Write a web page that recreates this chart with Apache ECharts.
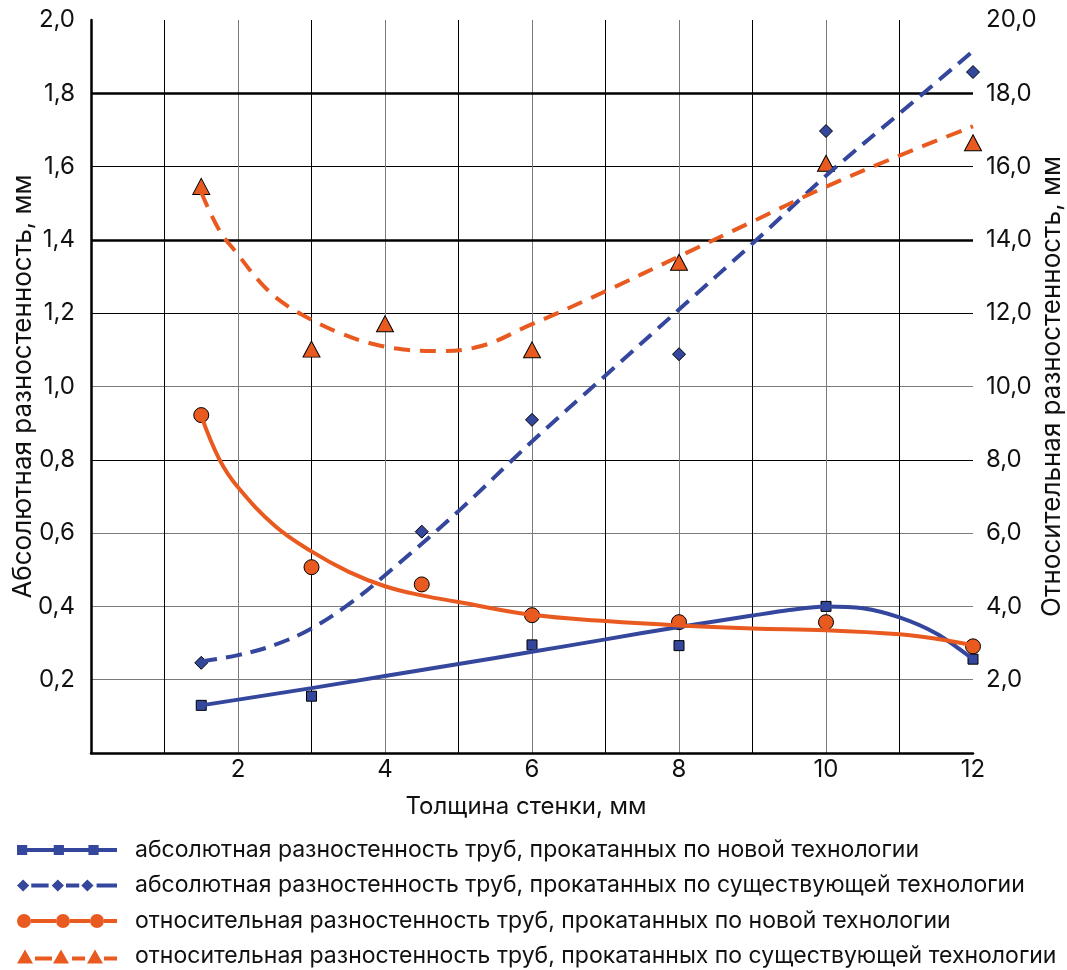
<!DOCTYPE html>
<html>
<head>
<meta charset="utf-8">
<title>Разностенность труб</title>
<script src="https://cdn.jsdelivr.net/npm/echarts@6/dist/echarts.min.js"></script>
<style>
  html, body { margin: 0; padding: 0; background: #fff; }
  #main { width: 1067px; height: 970px; }
</style>
</head>
<body>
<div id="main"></div>
<script>
// measured points (x = wall thickness, mm)
const absNewX = [1.5, 3, 6, 8, 10, 12];
const absNewY = [0.13, 0.155, 0.295, 0.293, 0.40, 0.256];
const absOldX = [1.5, 4.5, 6, 8, 10, 12];
const absOldY = [0.246, 0.604, 0.909, 1.088, 1.697, 1.858];
const relNewX = [1.5, 3, 4.5, 6, 8, 10, 12];
const relNewY = [9.22, 5.07, 4.6, 3.76, 3.57, 3.57, 2.91];
const relOldX = [1.5, 3, 4, 6, 8, 10, 12];
const relOldY = [15.46, 11.02, 11.71, 11.0, 13.39, 16.09, 16.65];

// trend curves
const fitAbsNewX = [1.5, 3, 4, 5, 6, 7, 8, 9, 9.5, 10, 10.5, 11, 11.5, 12];
const fitAbsNewY = [0.13, 0.177, 0.21, 0.243, 0.276, 0.31, 0.344, 0.375, 0.39, 0.40, 0.395, 0.37, 0.326, 0.256];
const fitAbsOldX = [1.5, 2, 2.5, 3, 3.5, 4, 5, 6, 7, 8, 9, 10, 11, 12];
const fitAbsOldY = [0.25, 0.267, 0.295, 0.34, 0.405, 0.485, 0.66, 0.85, 1.03, 1.21, 1.39, 1.575, 1.745, 1.915];
const fitRelNewX = [1.5, 1.75, 2, 2.5, 3, 3.5, 4, 4.5, 5, 6, 7, 8, 9, 10, 11, 11.5, 12];
const fitRelNewY = [9.2, 8.0, 7.25, 6.2, 5.5, 4.95, 4.55, 4.3, 4.12, 3.77, 3.6, 3.48, 3.4, 3.35, 3.24, 3.12, 2.94];
const fitRelOldX = [1.5, 1.75, 2, 2.3, 2.6, 3, 3.4, 3.8, 4.25, 4.7, 5.2, 6, 7, 8, 9, 10, 11, 12];
const fitRelOldY = [15.3, 14.25, 13.6, 12.85, 12.3, 11.82, 11.45, 11.18, 11.01, 10.97, 11.05, 11.7, 12.6, 13.55, 14.5, 15.45, 16.3, 17.1];

const seriesNames = [
  'абсолютная разностенность труб, прокатанных по новой технологии',
  'абсолютная разностенность труб, прокатанных по существующей технологии',
  'относительная разностенность труб, прокатанных по новой технологии',
  'относительная разностенность труб, прокатанных по существующей технологии'
];
const majorGridY = [1.4, 1.8];

const BLUE = '#34479d';
const ORANGE = '#e85a1f';
const FONT = 'Inter, "Liberation Sans", Arial, sans-serif';
const GRAY = '#7a7a7a';
// grid line colours, one per tick from 0 upward
const xGridColors = ['#000', '#000', GRAY, '#000', GRAY, '#000', GRAY, '#000', GRAY, '#000', GRAY, '#000'];
const yGridColors = ['#000', GRAY, GRAY, GRAY, '#000', GRAY, '#000', '#000', '#000', '#000'];

// legend icons: line sample with three markers (100 x 16 box)
const ICON_SQUARE = 'path://M2 3h10v10h-10z M12 6h26v4h-26z M38 3h10v10h-10z M48 6h24v4h-24z M72 3h10v10h-10z M82 6h18v4h-18z';
const ICON_DIAMOND = 'path://M8 2l6 6l-6 6l-6 -6z M16 6h17v4h-17z M42 2l6 6l-6 6l-6 -6z M50 6h13v4h-13z M71 2l6 6l-6 6l-6 -6z M80 6h20v4h-20z';
const ICON_CIRCLE = 'path://M0 8a7 7 0 1 0 14 0a7 7 0 1 0 -14 0z M14 6h25v4h-25z M39 8a7 7 0 1 0 14 0a7 7 0 1 0 -14 0z M53 6h20v4h-20z M73 8a7 7 0 1 0 14 0a7 7 0 1 0 -14 0z M87 6h13v4h-13z';
const ICON_TRIANGLE = 'path://M8 1L16 15H0z M18 8h17v4h-17z M44 1L52 15H36z M55 8h13v4h-13z M78 1L86 15H70z M87 8h13v4h-13z';

const zip = (xs, ys) => xs.map((x, i) => [x, ys[i]]);
const commaFmt = v => (v === 0 ? '' : v.toFixed(1).replace('.', ','));

var chart = echarts.init(document.getElementById('main'));

var option = {
  animation: false,
  textStyle: { fontFamily: FONT },
  grid: { left: 91, right: 94, top: 20, bottom: 217, outerBoundsMode: 'none' },
  legend: {
    orient: 'vertical',
    left: 17,
    top: 838,
    padding: 0,
    itemWidth: 100,
    itemHeight: 16,
    itemGap: 11.5,
    selectedMode: false,
    textStyle: { fontSize: 23, color: '#111', lineHeight: 24, padding: [0, 0, 0, 13] },
    data: [
      { name: seriesNames[0], icon: ICON_SQUARE, itemStyle: { color: BLUE, borderWidth: 0 } },
      { name: seriesNames[1], icon: ICON_DIAMOND, itemStyle: { color: BLUE, borderWidth: 0 } },
      { name: seriesNames[2], icon: ICON_CIRCLE, itemStyle: { color: ORANGE, borderWidth: 0 } },
      { name: seriesNames[3], icon: ICON_TRIANGLE, itemStyle: { color: ORANGE, borderWidth: 0 } }
    ]
  },
  xAxis: {
    type: 'value',
    min: 0,
    max: 12,
    interval: 1,
    name: 'Толщина стенки, мм',
    nameLocation: 'middle',
    nameGap: 42,
    nameMoveOverlap: false,
    nameTextStyle: { fontSize: 24, color: '#111', padding: [0, 12, 0, 0] },
    axisLine: { lineStyle: { color: '#000', width: 2.5 } },
    axisTick: { show: false },
    axisLabel: {
      fontSize: 24,
      color: '#111',
      margin: 5,
      formatter: v => (v > 0 && v % 2 === 0 ? String(v) : '')
    },
    splitLine: { show: true, showMaxLine: false, lineStyle: { color: xGridColors, width: 1 } }
  },
  yAxis: [
    {
      type: 'value',
      min: 0,
      max: 2,
      interval: 0.2,
      name: 'Абсолютная разностенность, мм',
      nameLocation: 'middle',
      nameGap: 55,
      nameMoveOverlap: false,
      nameTextStyle: { fontSize: 26, color: '#111' },
      axisLine: { show: true, lineStyle: { color: '#000', width: 2.5 } },
      axisTick: { show: false },
      axisLabel: { fontSize: 24, color: '#111', margin: 16, formatter: commaFmt },
      splitLine: { show: true, showMaxLine: false, lineStyle: { color: yGridColors, width: 1 } }
    },
    {
      type: 'value',
      position: 'right',
      min: 0,
      max: 20,
      interval: 2,
      name: 'Относительная разностенность, мм',
      nameLocation: 'middle',
      nameGap: 66,
      nameMoveOverlap: false,
      nameTextStyle: { fontSize: 26, color: '#111' },
      axisLine: { show: false },
      axisTick: { show: false },
      axisLabel: { fontSize: 24, color: '#111', margin: 13, formatter: commaFmt },
      splitLine: { show: false }
    }
  ],
  series: [
    {
      name: seriesNames[0],
      type: 'line',
      data: zip(fitAbsNewX, fitAbsNewY),
      smooth: 0.3,
      symbol: 'none',
      clip: false,
      itemStyle: { color: BLUE },
      lineStyle: { color: BLUE, width: 4 },
      markLine: {
        silent: true,
        z: 1,
        symbol: ['none', 'none'],
        label: { show: false },
        lineStyle: { color: '#000', width: 2.5, type: 'solid' },
        data: majorGridY.map(v => ({ yAxis: v }))
      }
    },
    {
      name: seriesNames[1],
      type: 'line',
      data: zip(fitAbsOldX, fitAbsOldY),
      smooth: 0.4,
      symbol: 'none',
      clip: false,
      itemStyle: { color: BLUE },
      lineStyle: { color: BLUE, width: 4, type: [16, 9] }
    },
    {
      name: seriesNames[2],
      type: 'line',
      yAxisIndex: 1,
      data: zip(fitRelNewX, fitRelNewY),
      smooth: 0.4,
      symbol: 'none',
      clip: false,
      itemStyle: { color: ORANGE },
      lineStyle: { color: ORANGE, width: 4 }
    },
    {
      name: seriesNames[3],
      type: 'line',
      yAxisIndex: 1,
      data: zip(fitRelOldX, fitRelOldY),
      smooth: 0.4,
      symbol: 'none',
      clip: false,
      itemStyle: { color: ORANGE },
      lineStyle: { color: ORANGE, width: 4, type: [16, 10] }
    },
    {
      name: seriesNames[0],
      type: 'scatter',
      data: zip(absNewX, absNewY),
      symbol: 'rect',
      symbolSize: 10,
      clip: false,
      itemStyle: { color: BLUE, borderColor: '#000', borderWidth: 1, opacity: 1 }
    },
    {
      name: seriesNames[1],
      type: 'scatter',
      data: zip(absOldX, absOldY),
      symbol: 'diamond',
      symbolSize: 13,
      clip: false,
      itemStyle: { color: BLUE, borderColor: '#000', borderWidth: 1, opacity: 1 }
    },
    {
      name: seriesNames[2],
      type: 'scatter',
      yAxisIndex: 1,
      data: zip(relNewX, relNewY),
      symbol: 'circle',
      symbolSize: 15,
      clip: false,
      itemStyle: { color: ORANGE, borderColor: '#000', borderWidth: 1, opacity: 1 }
    },
    {
      name: seriesNames[3],
      type: 'scatter',
      yAxisIndex: 1,
      data: zip(relOldX, relOldY),
      symbol: 'triangle',
      symbolSize: [17, 16],
      clip: false,
      itemStyle: { color: ORANGE, borderColor: '#000', borderWidth: 1, opacity: 1 }
    }
  ]
};

chart.setOption(option);
</script>
</body>
</html>
